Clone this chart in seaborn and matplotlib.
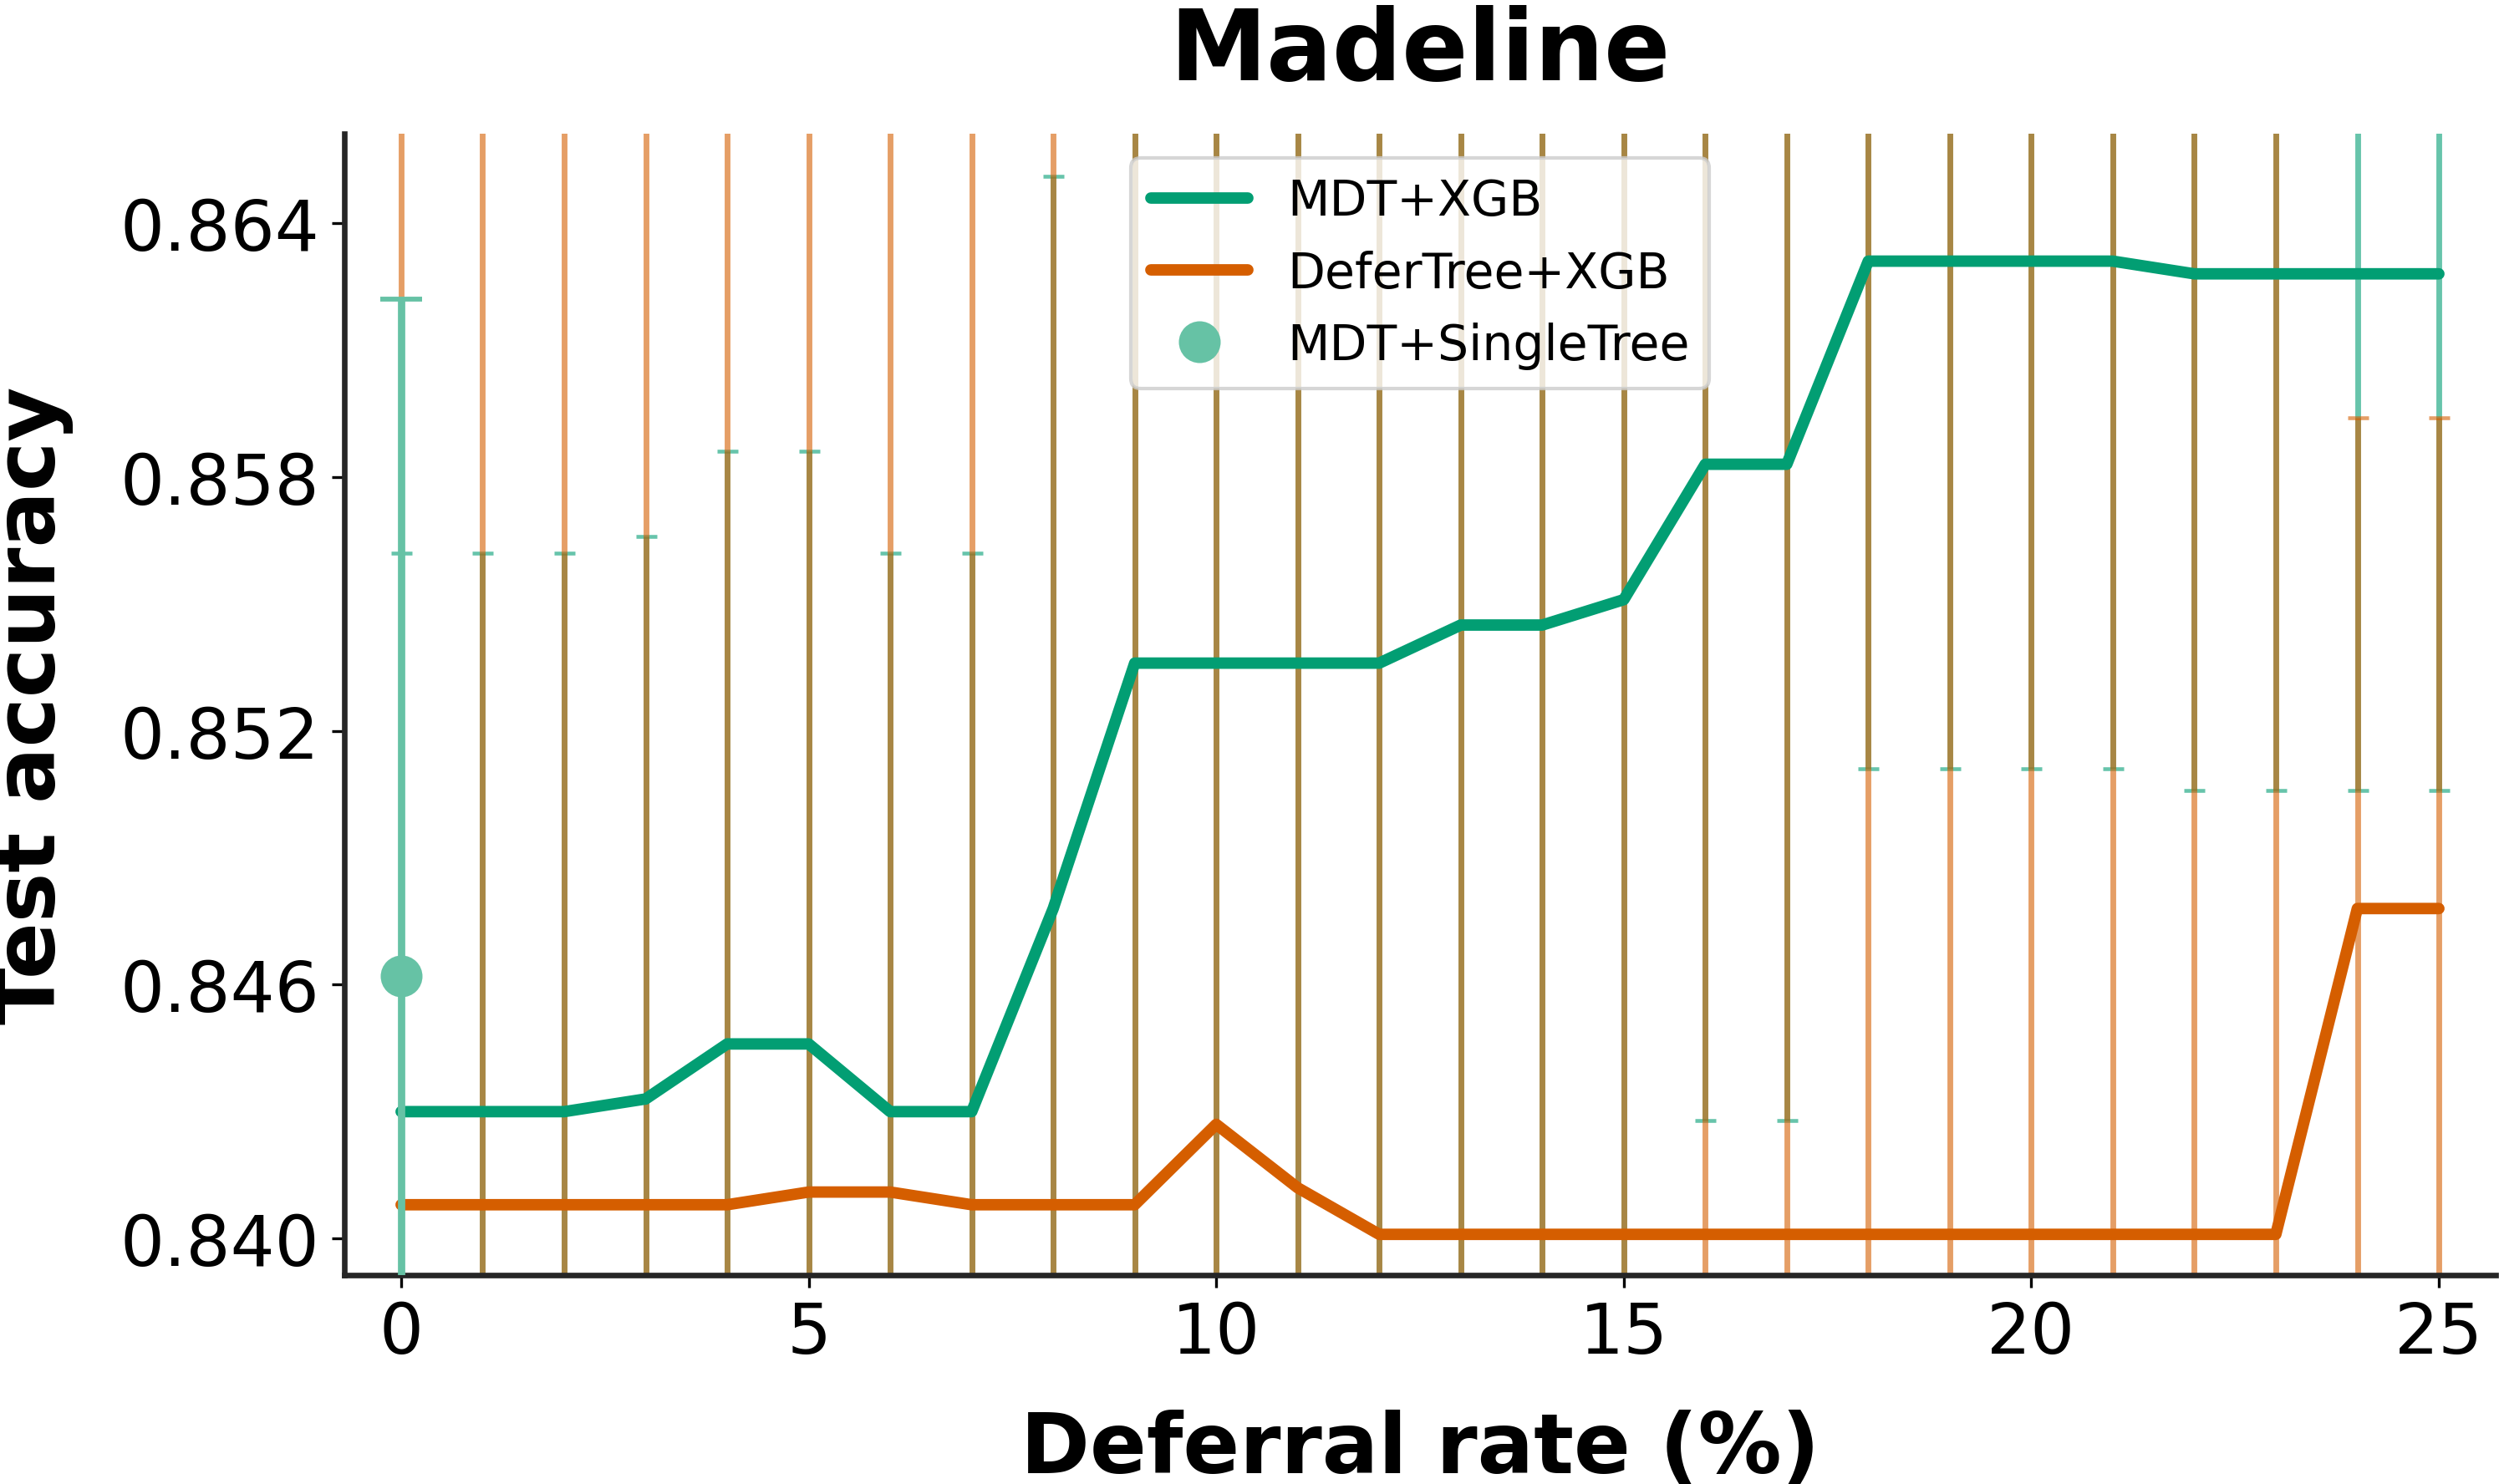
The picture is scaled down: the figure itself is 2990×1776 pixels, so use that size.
import numpy as np
import pandas as pd
import matplotlib
matplotlib.use("Agg")
import matplotlib.pyplot as plt
from matplotlib.lines import Line2D
import seaborn as sns

# ---------------- data ----------------
deferral_rate = list(range(26))

mdt_xgb_mean = [0.8430, 0.8430, 0.8430, 0.8433, 0.8446, 0.8446, 0.8430, 0.8430,
                0.8478, 0.8536, 0.8536, 0.8536, 0.8536, 0.8545, 0.8545, 0.8551,
                0.8583, 0.8583, 0.8631, 0.8631, 0.8631, 0.8631, 0.8628, 0.8628,
                0.8628, 0.8628]
mdt_xgb_std = [0.0132, 0.0132, 0.0132, 0.0133, 0.0140, 0.0140, 0.0132, 0.0132,
               0.0173, 0.0155, 0.0155, 0.0155, 0.0155, 0.0160, 0.0160, 0.0165,
               0.0155, 0.0155, 0.0120, 0.0120, 0.0120, 0.0120, 0.0122, 0.0122,
               0.0122, 0.0122]

defertree_xgb_mean = [0.8408, 0.8408, 0.8408, 0.8408, 0.8408, 0.8411, 0.8411, 0.8408,
                      0.8408, 0.8408, 0.8427, 0.8412, 0.8401, 0.8401, 0.8401, 0.8401,
                      0.8401, 0.8401, 0.8401, 0.8401, 0.8401, 0.8401, 0.8401, 0.8401,
                      0.8478, 0.8478]
defertree_xgb_std = [0.0270] * 24 + [0.0116, 0.0116]

single_x = [0]
single_mean = [0.8462]
single_std = [0.0160]

methods = ["MDT+XGB", "DeferTree+XGB"]
single_label = "MDT+SingleTree"

yticks = [0.840, 0.846, 0.852, 0.858, 0.864]
xticks = [0, 5, 10, 15, 20, 25]

GREEN = "#029E73"
ORANGE = "#D55E00"
LIGHT = "#66C2A5"

# ---------------- plot ----------------
sns.set_style("ticks")
plt.rcParams["font.family"] = ["DejaVu Sans"]

fig = plt.figure(figsize=(2990 / 300, 1777 / 300), dpi=300)
ax = fig.add_axes([0.13769, 0.14086, 0.86107, 0.76854])

ax.errorbar(deferral_rate, mdt_xgb_mean, yerr=mdt_xgb_std, fmt="none",
            ecolor=GREEN, alpha=0.6, elinewidth=1.65, capsize=3, capthick=1.1,
            zorder=2)
ax.errorbar(deferral_rate, defertree_xgb_mean, yerr=defertree_xgb_std, fmt="none",
            ecolor=ORANGE, alpha=0.6, elinewidth=1.65, capsize=3, capthick=1.1,
            zorder=2)

df = pd.DataFrame({
    "rate": deferral_rate * 2,
    "acc": mdt_xgb_mean + defertree_xgb_mean,
    "method": [methods[0]] * len(deferral_rate) + [methods[1]] * len(deferral_rate),
})
sns.lineplot(data=df, x="rate", y="acc", hue="method", hue_order=methods,
             palette=[GREEN, ORANGE], linewidth=3.3, errorbar=None,
             legend=False, ax=ax, zorder=3)

ax.errorbar(single_x, single_mean, yerr=single_std, fmt="none", ecolor=LIGHT,
            elinewidth=2.1, capsize=6, capthick=1.4, zorder=4)
ax.plot(single_x, single_mean, "o", ms=12, color=LIGHT, mew=0, zorder=5)

handles = [Line2D([], [], color=GREEN, lw=3.3),
           Line2D([], [], color=ORANGE, lw=3.3),
           Line2D([], [], ls="none", marker="o", ms=12, color=LIGHT, mew=0)]
ax.legend(handles, methods + [single_label], loc="upper center", fontsize=14,
          labelcolor="k")

ax.set_xlim(-0.7, 25.7)
ax.set_ylim(0.839143, 0.866112)
ax.set_xticks(xticks)
ax.set_yticks(yticks)
ax.set_yticklabels([f"{v:.3f}" for v in yticks])

sns.despine(ax=ax)
for sp in ["left", "bottom"]:
    ax.spines[sp].set_linewidth(1.6)
    ax.spines[sp].set_color("0.15")

ax.tick_params(labelsize=20, length=3.5, width=0.8, color="k", labelcolor="k")
ax.set_xlabel("Deferral rate (%)", fontsize=24, fontweight="bold", labelpad=12, color="k")
ax.set_ylabel("Test accuracy", fontsize=24, fontweight="bold", labelpad=13.5, color="k")
ax.set_title("Madeline", fontsize=28, fontweight="bold", pad=15.5, color="k")

fig.savefig("out.png", dpi=300)
